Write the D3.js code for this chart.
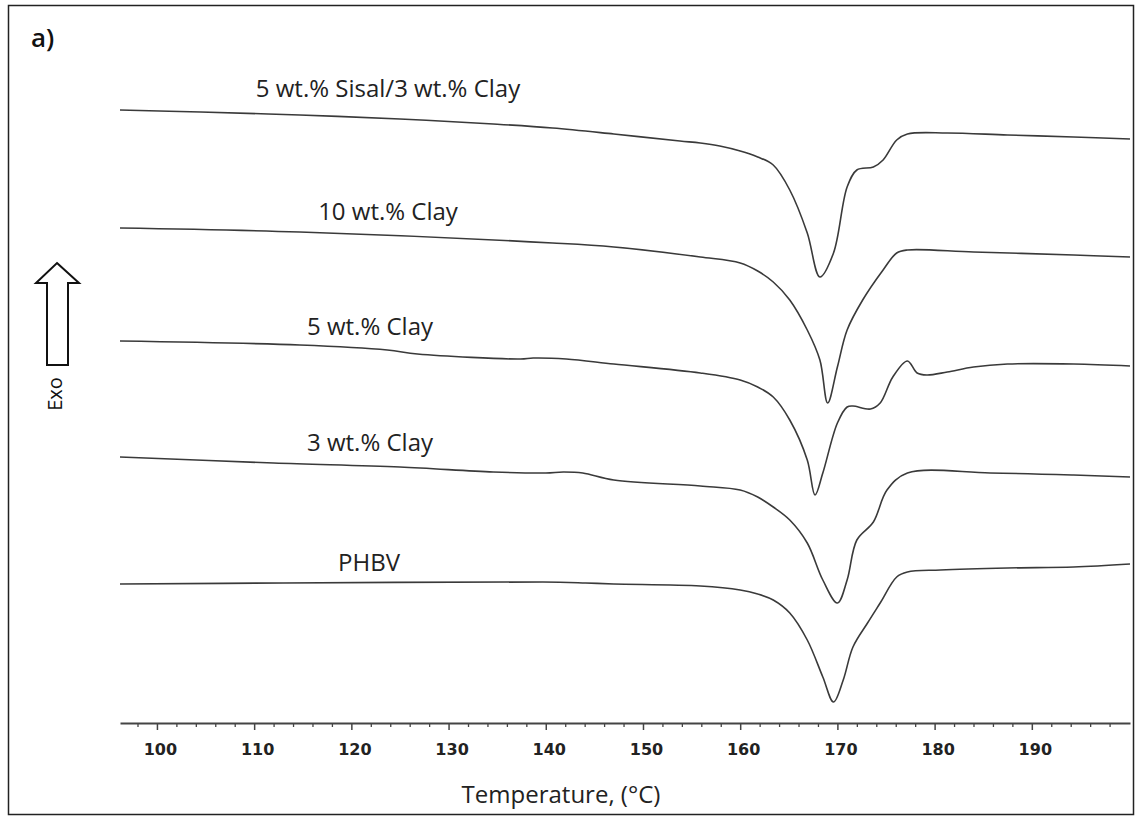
<!DOCTYPE html>
<html>
<head>
<meta charset="utf-8">
<script src="https://cdn.jsdelivr.net/npm/d3@7"></script>
<style>
  body { margin: 0; background: #fff; }
  .tick-label { font-family: "DejaVu Sans", sans-serif; font-size: 16px; fill: #222; }
  .anno { font-family: "Open Sans", sans-serif; font-size: 24px; fill: #222; }
</style>
</head>
<body>
<div id="chart-area"></div>
<script>
// Temperature (°C) and heat flow (arbitrary units, curves offset)
const seriesNames = ["5 wt.% Sisal/3 wt.% Clay", "10 wt.% Clay", "5 wt.% Clay", "3 wt.% Clay", "PHBV"];

const tSisal = [96.2, 104.5, 114.7, 125.0, 134.6, 140.7, 147.0, 153.8, 155.9, 157.9, 160.0, 161.8, 163.4, 165.1, 166.9, 168.2, 169.6, 171.0, 172.0, 173.7, 174.7, 176.1, 177.2, 181.3, 187.5, 194.3, 200.1];
const hSisal = [62.0, 61.8, 61.5, 61.1, 60.6, 60.2, 59.6, 58.9, 58.7, 58.4, 57.9, 57.3, 56.5, 54.0, 49.7, 45.3, 47.7, 54.3, 56.0, 56.3, 57.0, 59.0, 59.6, 59.7, 59.5, 59.3, 59.1];

const tClay10 = [96.2, 114.7, 140.7, 147.0, 155.9, 160.0, 161.8, 163.4, 165.1, 166.9, 168.2, 169.0, 170.0, 171.0, 172.6, 174.7, 176.1, 177.2, 184.0, 194.3, 200.1];
const hClay10 = [50.2, 49.8, 48.7, 48.3, 47.3, 46.7, 45.9, 44.8, 43.0, 40.0, 37.0, 32.7, 36.3, 40.0, 43.0, 46.0, 47.7, 48.0, 47.8, 47.5, 47.3];

const tClay5 = [96.2, 114.7, 123.7, 126.8, 137.4, 138.7, 142.1, 147.0, 155.9, 160.0, 161.8, 163.4, 165.1, 166.9, 167.7, 168.5, 170.0, 171.0, 171.6, 173.4, 174.4, 175.7, 177.2, 178.2, 179.2, 181.3, 184.0, 187.5, 194.3, 200.1];
const hClay5 = [38.9, 38.5, 38.0, 37.6, 37.1, 37.2, 37.1, 36.6, 35.7, 35.0, 34.3, 33.3, 31.0, 27.0, 23.5, 25.7, 30.7, 32.3, 32.4, 32.1, 32.7, 35.3, 36.9, 35.7, 35.5, 35.8, 36.3, 36.6, 36.6, 36.4];

const tClay3 = [96.2, 112.0, 125.0, 134.6, 140.0, 141.8, 143.8, 147.0, 155.9, 160.0, 161.8, 163.4, 165.1, 166.9, 168.5, 170.0, 171.0, 172.0, 173.7, 175.1, 177.2, 185.7, 194.3, 200.1];
const hClay3 = [27.3, 26.7, 26.3, 25.8, 25.7, 25.8, 25.7, 25.0, 24.4, 24.0, 23.3, 22.3, 21.0, 18.7, 15.0, 12.7, 15.0, 19.0, 20.8, 24.0, 25.7, 25.7, 25.5, 25.3];

const tPHBV = [96.2, 113.0, 139.7, 144.1, 147.0, 155.9, 160.0, 161.8, 163.4, 165.1, 166.9, 168.5, 169.6, 170.6, 171.6, 173.1, 174.4, 176.1, 177.2, 180.6, 187.5, 194.3, 200.1];
const hPHBV = [14.6, 14.7, 14.8, 14.7, 14.6, 14.4, 14.0, 13.6, 13.0, 11.7, 9.0, 5.3, 2.8, 5.0, 8.3, 10.7, 12.7, 15.3, 15.8, 16.0, 16.2, 16.3, 16.6];

const majorTicks = [100, 110, 120, 130, 140, 150, 160, 170, 180, 190];
const minorTicks = d3.range(98, 201, 2).filter(t => t % 10 !== 0);

const seriesT = [tSisal, tClay10, tClay5, tClay3, tPHBV];
const seriesH = [hSisal, hClay10, hClay5, hClay3, hPHBV];

// label placement (pixels)
const labelPos = [[388, 97], [388, 220], [370, 335], [370, 451], [369, 571]];

const W = 1135, H = 816;

const svg = d3.select("#chart-area")
    .append("svg")
    .attr("width", W)
    .attr("height", H);

// frame
svg.append("rect")
    .attr("x", 8.5).attr("y", 5.5)
    .attr("width", 1125).attr("height", 809)
    .attr("fill", "none")
    .attr("stroke", "#222")
    .attr("stroke-width", 1.5);

const x = d3.scaleLinear().domain([96.2, 200.1]).range([120, 1130]);
const y = d3.scaleLinear().domain([0, 72]).range([730, 10]);

// x axis: minor ticks first, then major ticks with labels
const axisY = 723;
svg.append("g")
    .attr("transform", `translate(0, ${axisY})`)
    .call(d3.axisBottom(x).tickValues(minorTicks).tickSize(4).tickSizeOuter(0).tickFormat(""))
    .call(g => g.select(".domain").remove())
    .selectAll("line").attr("stroke", "#444").attr("stroke-width", 1.3);

const xAxis = svg.append("g")
    .attr("transform", `translate(0, ${axisY})`)
    .call(d3.axisBottom(x).tickValues(majorTicks).tickSize(7).tickSizeOuter(0).tickPadding(14));

xAxis.select(".domain").attr("stroke", "#444").attr("stroke-width", 2);
xAxis.selectAll(".tick line").attr("stroke", "#444").attr("stroke-width", 1.5);
xAxis.selectAll(".tick text")
    .attr("class", "tick-label")
    .attr("fill", "#222")
    .style("font-weight", "bold")
    .attr("dx", 3);

svg.append("text")
    .attr("x", 561)
    .attr("y", 803)
    .attr("text-anchor", "middle")
    .style("font-family", "'Open Sans', sans-serif")
    .style("font-size", "24px")
    .attr("fill", "#222")
    .text("Temperature, (°C)");

// panel label
svg.append("text")
    .attr("x", 31).attr("y", 47)
    .style("font-family", "'Open Sans', sans-serif")
    .style("font-size", "26px")
    .style("font-weight", "600")
    .attr("fill", "#111")
    .text("a)");

// Exo arrow
const arrow = [[57, 263], [79, 283], [68, 283], [68, 365], [47, 365], [47, 283], [36, 283]];
svg.append("path")
    .attr("d", d3.line()(arrow) + "Z")
    .attr("fill", "#fff")
    .attr("stroke", "#111")
    .attr("stroke-width", 2);

svg.append("text")
    .attr("transform", "translate(62, 394) rotate(-90)")
    .attr("text-anchor", "middle")
    .style("font-family", "'Open Sans', sans-serif")
    .style("font-size", "20px")
    .attr("fill", "#111")
    .text("Exo");

// curves
const line = d3.line()
    .x(d => x(d[0]))
    .y(d => y(d[1]))
    .curve(d3.curveCatmullRom.alpha(0.5));

seriesT.forEach((ts, i) => {
    const pts = ts.map((t, j) => [t, seriesH[i][j]]);
    svg.append("path")
        .datum(pts)
        .attr("d", line)
        .attr("fill", "none")
        .attr("stroke", "#3a3a3a")
        .attr("stroke-width", 1.6);
});

// curve labels
svg.selectAll(".anno")
    .data(seriesNames)
    .enter().append("text")
    .attr("class", "anno")
    .attr("x", (d, i) => labelPos[i][0])
    .attr("y", (d, i) => labelPos[i][1])
    .attr("text-anchor", "middle")
    .text(d => d);
</script>
</body>
</html>
